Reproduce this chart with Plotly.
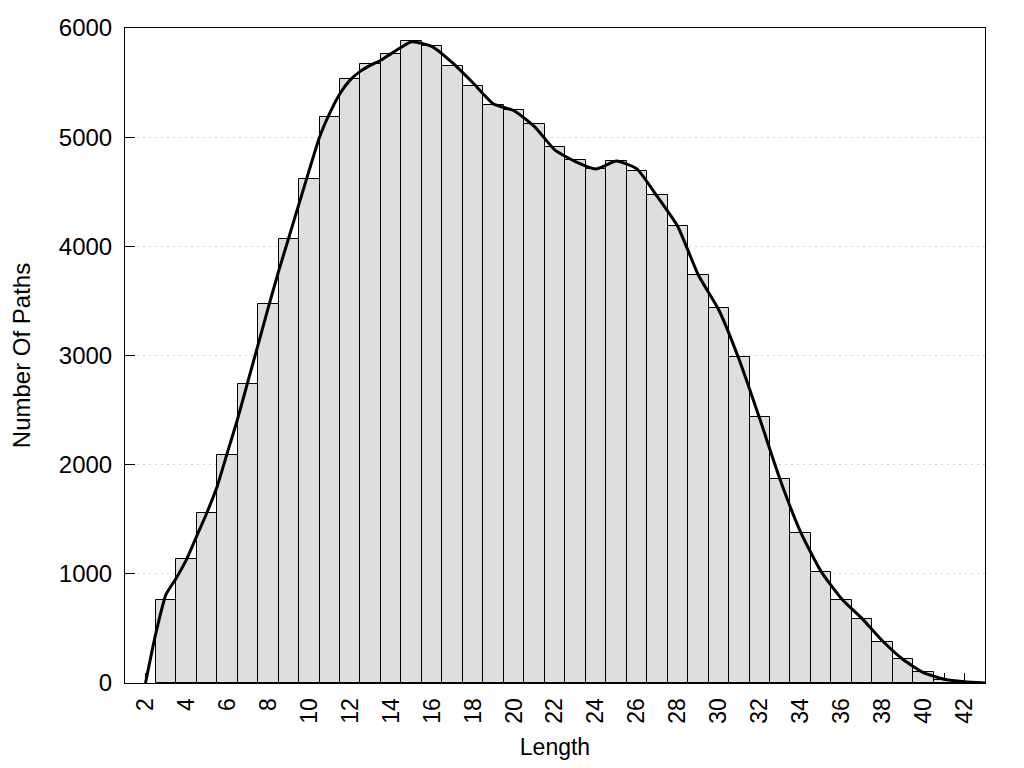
import plotly.graph_objects as go

# Histogram bars
lengths = list(range(3, 43))
counts = [760, 1136, 1557, 2088, 2739, 3472, 4067, 4617, 5185, 5530,
          5667, 5758, 5878, 5832, 5649, 5466, 5292, 5246, 5118, 4907,
          4788, 4705, 4785, 4693, 4467, 4183, 3735, 3432, 2983, 2437,
          1869, 1374, 1015, 757, 583, 373, 217, 98, 25, 10]

# Smoothed density curve
curve_x = [2, 2.5, 3, 3.5, 4, 4.5, 5, 5.5, 6, 6.5, 7, 7.5, 8, 8.5, 9, 9.5, 10, 10.5,
           11, 11.5, 12, 12.5, 13, 13.5, 14, 15, 16, 17, 18, 19, 20,
           21, 22, 23, 24, 25, 26, 27, 28, 29, 30, 31, 32, 33, 34, 35, 36,
           37, 38, 39, 40, 41, 42, 43]
curve_y = [0, 450, 810, 960, 1130, 1345, 1560, 1800, 2110, 2420, 2760, 3100, 3440, 3770,
           4080, 4390, 4700, 5000, 5220, 5400, 5525, 5605, 5660, 5705,
           5765, 5874, 5830, 5680, 5496, 5304, 5242, 5096, 4882, 4776, 4708,
           4781, 4710, 4455, 4180, 3737, 3417, 2959, 2420, 1860, 1380, 1020,
           770, 590, 385, 215, 95, 35, 12, 0]

y_ticks = [0, 1000, 2000, 3000, 4000, 5000, 6000]
x_tickvals = list(range(2, 43))
x_ticktext = [str(v) if v % 2 == 0 else "" for v in x_tickvals]

fig = go.Figure()
fig.add_trace(go.Bar(
    x=lengths, y=counts, width=1,
    marker=dict(color="#dedede", line=dict(color="black", width=1)),
    showlegend=False,
))
fig.add_trace(go.Scatter(
    x=curve_x, y=curve_y, mode="lines",
    line=dict(color="black", width=3, shape="spline", smoothing=0.5),
    showlegend=False,
))

font = "Liberation Sans, Arial, sans-serif"
fig.update_layout(
    width=1008, height=752,
    margin=dict(l=117, r=31, t=20, b=77, autoexpand=False),
    plot_bgcolor="white", paper_bgcolor="white",
    bargap=0,
    font=dict(family=font, size=23, color="black"),
    xaxis=dict(
        range=[1, 43], tickvals=x_tickvals, ticktext=x_ticktext,
        tickangle=-90, ticks="inside", ticklen=10, tickcolor="black",
        showline=True, linecolor="black", linewidth=1, mirror=True,
        showgrid=False, zeroline=False, layer="below traces",
        tickfont=dict(size=23), ticklabelstandoff=5,
        title=dict(text="Length", font=dict(size=23), standoff=18),
    ),
    yaxis=dict(
        range=[0, 6000], tickvals=y_ticks,
        ticks="inside", ticklen=10, tickcolor="black",
        showline=True, linecolor="black", linewidth=1, mirror=True,
        showgrid=True, gridcolor="#d4d4d4", griddash="2px,4px", gridwidth=1,
        zeroline=False, layer="below traces",
        tickfont=dict(size=24), ticklabelstandoff=7,
        title=dict(text="Number Of Paths", font=dict(size=24), standoff=22),
    ),
)

fig.write_html("out.html")
